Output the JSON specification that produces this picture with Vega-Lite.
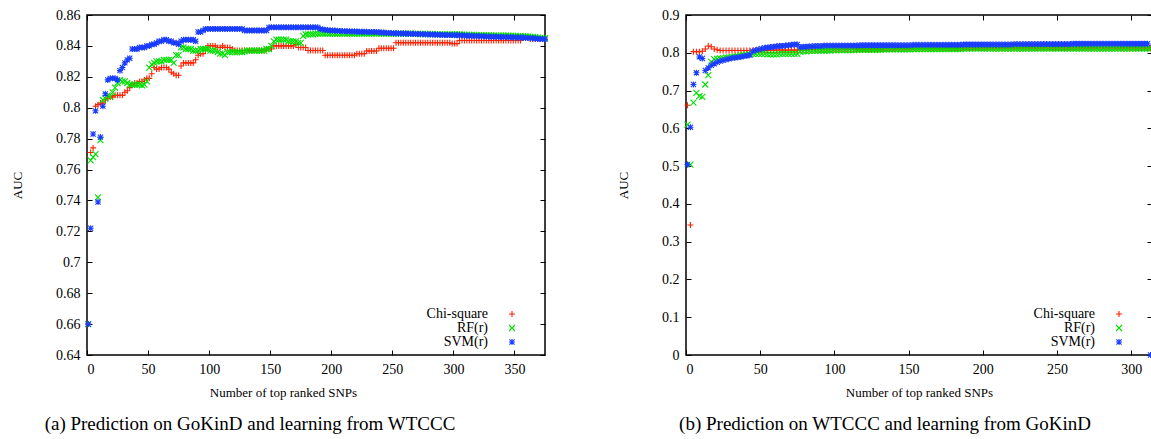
{
  "$schema": "https://vega.github.io/schema/vega-lite/v6.json",
  "padding": {"left": 10, "top": 7, "right": 0, "bottom": 0},
  "background": "white",
  "datasets": {
    "a": [
      {"x":1,"c":0.660,"r":0.660,"s":0.660},
      {"x":3,"c":0.771,"r":0.766,"s":0.722},
      {"x":5,"c":0.774,"r":0.768,"s":0.783},
      {"x":7,"c":0.801,"r":0.770,"s":0.798},
      {"x":9,"c":0.802,"r":0.742,"s":0.739},
      {"x":11,"c":0.803,"r":0.779,"s":0.781},
      {"x":13,"c":0.803,"r":0.805,"s":0.801},
      {"x":15,"c":0.805,"r":0.806,"s":0.809},
      {"x":17,"c":0.806,"r":0.808,"s":0.818},
      {"x":19,"c":0.807,"r":0.807,"s":0.819},
      {"x":21,"c":0.807,"r":0.810,"s":0.819},
      {"x":23,"c":0.808,"r":0.813,"s":0.819},
      {"x":25,"c":0.808,"r":0.816,"s":0.818},
      {"x":27,"c":0.808,"r":0.818,"s":0.824},
      {"x":29,"c":0.808,"r":0.817,"s":0.826},
      {"x":31,"c":0.810,"r":0.817,"s":0.829},
      {"x":33,"c":0.811,"r":0.816,"s":0.831},
      {"x":35,"c":0.813,"r":0.815,"s":0.832},
      {"x":37,"c":0.815,"r":0.815,"s":0.838},
      {"x":39,"c":0.816,"r":0.815,"s":0.838},
      {"x":41,"c":0.816,"r":0.815,"s":0.838},
      {"x":43,"c":0.817,"r":0.815,"s":0.839},
      {"x":45,"c":0.817,"r":0.8145,"s":0.839},
      {"x":47,"c":0.818,"r":0.815,"s":0.839},
      {"x":49,"c":0.819,"r":0.817,"s":0.840},
      {"x":51,"c":0.819,"r":0.826,"s":0.840},
      {"x":53,"c":0.822,"r":0.828,"s":0.841},
      {"x":55,"c":0.826,"r":0.829,"s":0.841},
      {"x":57,"c":0.825,"r":0.830,"s":0.842},
      {"x":59,"c":0.825,"r":0.830,"s":0.843},
      {"x":61,"c":0.826,"r":0.830,"s":0.843},
      {"x":63,"c":0.826,"r":0.831,"s":0.844},
      {"x":65,"c":0.826,"r":0.831,"s":0.844},
      {"x":67,"c":0.825,"r":0.831,"s":0.843},
      {"x":69,"c":0.823,"r":0.831,"s":0.843},
      {"x":71,"c":0.822,"r":0.829,"s":0.842},
      {"x":73,"c":0.821,"r":0.834,"s":0.842},
      {"x":75,"c":0.821,"r":0.834,"s":0.841},
      {"x":77,"c":0.827,"r":0.839,"s":0.843},
      {"x":79,"c":0.829,"r":0.839,"s":0.844},
      {"x":81,"c":0.829,"r":0.838,"s":0.844},
      {"x":83,"c":0.829,"r":0.838,"s":0.844},
      {"x":85,"c":0.829,"r":0.838,"s":0.844},
      {"x":87,"c":0.829,"r":0.837,"s":0.844},
      {"x":89,"c":0.831,"r":0.837,"s":0.843},
      {"x":91,"c":0.834,"r":0.837,"s":0.849},
      {"x":93,"c":0.835,"r":0.838,"s":0.849},
      {"x":95,"c":0.835,"r":0.838,"s":0.850},
      {"x":97,"c":0.837,"r":0.838,"s":0.851},
      {"x":99,"c":0.840,"r":0.838,"s":0.851},
      {"x":101,"c":0.840,"r":0.837,"s":0.851},
      {"x":103,"c":0.840,"r":0.837,"s":0.851},
      {"x":105,"c":0.840,"r":0.837,"s":0.851},
      {"x":107,"c":0.839,"r":0.836,"s":0.851},
      {"x":109,"c":0.839,"r":0.835,"s":0.851},
      {"x":111,"c":0.840,"r":0.835,"s":0.851},
      {"x":113,"c":0.839,"r":0.834,"s":0.851},
      {"x":115,"c":0.839,"r":0.836,"s":0.851},
      {"x":117,"c":0.839,"r":0.836,"s":0.851},
      {"x":119,"c":0.838,"r":0.836,"s":0.851},
      {"x":121,"c":0.837,"r":0.836,"s":0.851},
      {"x":123,"c":0.837,"r":0.836,"s":0.851},
      {"x":125,"c":0.837,"r":0.836,"s":0.851},
      {"x":127,"c":0.837,"r":0.836,"s":0.851},
      {"x":129,"c":0.837,"r":0.8365,"s":0.850},
      {"x":131,"c":0.837,"r":0.837,"s":0.850},
      {"x":133,"c":0.837,"r":0.837,"s":0.850},
      {"x":135,"c":0.837,"r":0.837,"s":0.850},
      {"x":137,"c":0.837,"r":0.837,"s":0.850},
      {"x":139,"c":0.837,"r":0.837,"s":0.850},
      {"x":141,"c":0.837,"r":0.837,"s":0.850},
      {"x":143,"c":0.837,"r":0.837,"s":0.850},
      {"x":145,"c":0.837,"r":0.837,"s":0.850},
      {"x":147,"c":0.838,"r":0.838,"s":0.850},
      {"x":149,"c":0.838,"r":0.838,"s":0.852},
      {"x":151,"c":0.838,"r":0.840,"s":0.852},
      {"x":153,"c":0.840,"r":0.843,"s":0.852},
      {"x":155,"c":0.840,"r":0.844,"s":0.852},
      {"x":157,"c":0.840,"r":0.844,"s":0.852},
      {"x":159,"c":0.840,"r":0.844,"s":0.852},
      {"x":161,"c":0.840,"r":0.844,"s":0.852},
      {"x":163,"c":0.840,"r":0.844,"s":0.852},
      {"x":165,"c":0.840,"r":0.843,"s":0.852},
      {"x":167,"c":0.840,"r":0.843,"s":0.852},
      {"x":169,"c":0.840,"r":0.843,"s":0.852},
      {"x":171,"c":0.841,"r":0.843,"s":0.852},
      {"x":173,"c":0.839,"r":0.842,"s":0.852},
      {"x":175,"c":0.839,"r":0.842,"s":0.852},
      {"x":177,"c":0.839,"r":0.8465,"s":0.852},
      {"x":179,"c":0.839,"r":0.8475,"s":0.852},
      {"x":181,"c":0.837,"r":0.8475,"s":0.852},
      {"x":183,"c":0.837,"r":0.8475,"s":0.852},
      {"x":185,"c":0.837,"r":0.8475,"s":0.852},
      {"x":187,"c":0.837,"r":0.848,"s":0.852},
      {"x":189,"c":0.837,"r":0.848,"s":0.852},
      {"x":191,"c":0.837,"r":0.848,"s":0.851},
      {"x":193,"c":0.837,"r":0.848,"s":0.8505},
      {"x":195,"c":0.834,"r":0.848,"s":0.8505},
      {"x":197,"c":0.834,"r":0.848,"s":0.8502},
      {"x":199,"c":0.834,"r":0.848,"s":0.850},
      {"x":201,"c":0.834,"r":0.848,"s":0.850},
      {"x":203,"c":0.834,"r":0.848,"s":0.8499},
      {"x":205,"c":0.834,"r":0.848,"s":0.8498},
      {"x":207,"c":0.834,"r":0.848,"s":0.8497},
      {"x":209,"c":0.834,"r":0.848,"s":0.8496},
      {"x":211,"c":0.834,"r":0.848,"s":0.8495},
      {"x":213,"c":0.834,"r":0.848,"s":0.8495},
      {"x":215,"c":0.834,"r":0.848,"s":0.8494},
      {"x":217,"c":0.834,"r":0.848,"s":0.8494},
      {"x":219,"c":0.834,"r":0.848,"s":0.8493},
      {"x":221,"c":0.835,"r":0.848,"s":0.8493},
      {"x":223,"c":0.835,"r":0.848,"s":0.8492},
      {"x":225,"c":0.835,"r":0.848,"s":0.8492},
      {"x":227,"c":0.835,"r":0.848,"s":0.8492},
      {"x":229,"c":0.8367,"r":0.848,"s":0.8491},
      {"x":231,"c":0.8367,"r":0.848,"s":0.849},
      {"x":233,"c":0.8367,"r":0.848,"s":0.849},
      {"x":235,"c":0.8367,"r":0.848,"s":0.849},
      {"x":237,"c":0.8367,"r":0.848,"s":0.849},
      {"x":239,"c":0.8385,"r":0.848,"s":0.8488},
      {"x":241,"c":0.8385,"r":0.848,"s":0.8487},
      {"x":243,"c":0.8385,"r":0.848,"s":0.8486},
      {"x":245,"c":0.8385,"r":0.848,"s":0.8485},
      {"x":247,"c":0.8385,"r":0.848,"s":0.8484},
      {"x":249,"c":0.8385,"r":0.848,"s":0.8483},
      {"x":251,"c":0.8385,"r":0.848,"s":0.8482},
      {"x":253,"c":0.842,"r":0.848,"s":0.8482},
      {"x":255,"c":0.842,"r":0.848,"s":0.8481},
      {"x":257,"c":0.842,"r":0.848,"s":0.8481},
      {"x":259,"c":0.842,"r":0.848,"s":0.848},
      {"x":261,"c":0.842,"r":0.848,"s":0.848},
      {"x":263,"c":0.842,"r":0.8479,"s":0.8479},
      {"x":265,"c":0.842,"r":0.8479,"s":0.8479},
      {"x":267,"c":0.842,"r":0.8478,"s":0.8478},
      {"x":269,"c":0.842,"r":0.8478,"s":0.8477},
      {"x":271,"c":0.842,"r":0.8478,"s":0.8477},
      {"x":273,"c":0.842,"r":0.8477,"s":0.8476},
      {"x":275,"c":0.842,"r":0.8477,"s":0.8476},
      {"x":277,"c":0.842,"r":0.8477,"s":0.8475},
      {"x":279,"c":0.842,"r":0.8476,"s":0.8475},
      {"x":281,"c":0.842,"r":0.8476,"s":0.8474},
      {"x":283,"c":0.842,"r":0.8476,"s":0.8474},
      {"x":285,"c":0.842,"r":0.8476,"s":0.8473},
      {"x":287,"c":0.842,"r":0.8475,"s":0.8473},
      {"x":289,"c":0.842,"r":0.8475,"s":0.8472},
      {"x":291,"c":0.842,"r":0.8475,"s":0.8471},
      {"x":293,"c":0.842,"r":0.8475,"s":0.8471},
      {"x":295,"c":0.842,"r":0.8475,"s":0.847},
      {"x":297,"c":0.842,"r":0.8475,"s":0.847},
      {"x":299,"c":0.8415,"r":0.8475,"s":0.847},
      {"x":301,"c":0.8415,"r":0.8475,"s":0.8469},
      {"x":303,"c":0.8415,"r":0.8474,"s":0.8469},
      {"x":305,"c":0.8435,"r":0.8474,"s":0.8468},
      {"x":307,"c":0.8435,"r":0.8473,"s":0.8468},
      {"x":309,"c":0.8435,"r":0.8473,"s":0.8467},
      {"x":311,"c":0.8435,"r":0.8472,"s":0.8466},
      {"x":313,"c":0.8435,"r":0.8472,"s":0.8466},
      {"x":315,"c":0.8435,"r":0.8471,"s":0.8465},
      {"x":317,"c":0.8435,"r":0.8471,"s":0.8464},
      {"x":319,"c":0.8435,"r":0.847,"s":0.8464},
      {"x":321,"c":0.8435,"r":0.847,"s":0.8463},
      {"x":323,"c":0.8435,"r":0.8469,"s":0.8462},
      {"x":325,"c":0.8435,"r":0.8469,"s":0.8462},
      {"x":327,"c":0.8435,"r":0.8468,"s":0.8461},
      {"x":329,"c":0.8435,"r":0.8468,"s":0.846},
      {"x":331,"c":0.8435,"r":0.8468,"s":0.846},
      {"x":333,"c":0.8435,"r":0.8467,"s":0.8459},
      {"x":335,"c":0.8435,"r":0.8467,"s":0.8459},
      {"x":337,"c":0.8435,"r":0.8467,"s":0.8458},
      {"x":339,"c":0.8435,"r":0.8466,"s":0.8458},
      {"x":341,"c":0.8435,"r":0.8466,"s":0.8457},
      {"x":343,"c":0.8435,"r":0.8466,"s":0.8457},
      {"x":345,"c":0.8435,"r":0.8466,"s":0.8456},
      {"x":347,"c":0.8435,"r":0.8465,"s":0.8456},
      {"x":349,"c":0.8435,"r":0.8465,"s":0.8455},
      {"x":351,"c":0.8435,"r":0.8465,"s":0.8455},
      {"x":353,"c":0.8435,"r":0.8464,"s":0.8454},
      {"x":355,"c":0.8435,"r":0.8463,"s":0.8454},
      {"x":357,"c":0.846,"r":0.8462,"s":0.8453},
      {"x":359,"c":0.846,"r":0.8461,"s":0.8452},
      {"x":361,"c":0.846,"r":0.846,"s":0.8451},
      {"x":363,"c":0.8445,"r":0.8459,"s":0.845},
      {"x":365,"c":0.8445,"r":0.8458,"s":0.8449},
      {"x":367,"c":0.8445,"r":0.8456,"s":0.8448},
      {"x":369,"c":0.8445,"r":0.8454,"s":0.8446},
      {"x":371,"c":0.8445,"r":0.8452,"s":0.8445},
      {"x":373,"c":0.8445,"r":0.8451,"s":0.8444},
      {"x":375,"c":0.8445,"r":0.845,"s":0.8443}
    ],
    "b": [
      {"x":1,"c":0.661,"r":0.610,"s":0.504},
      {"x":3,"c":0.344,"r":0.504,"s":0.603},
      {"x":5,"c":0.803,"r":0.668,"s":0.716},
      {"x":7,"c":0.803,"r":0.694,"s":0.747},
      {"x":9,"c":0.803,"r":0.685,"s":0.789},
      {"x":11,"c":0.804,"r":0.683,"s":0.785},
      {"x":13,"c":0.810,"r":0.716,"s":0.753},
      {"x":15,"c":0.818,"r":0.741,"s":0.760},
      {"x":17,"c":0.816,"r":0.776,"s":0.767},
      {"x":19,"c":0.810,"r":0.783,"s":0.771},
      {"x":21,"c":0.808,"r":0.784,"s":0.775},
      {"x":23,"c":0.806,"r":0.785,"s":0.778},
      {"x":25,"c":0.806,"r":0.786,"s":0.780},
      {"x":27,"c":0.806,"r":0.787,"s":0.782},
      {"x":29,"c":0.806,"r":0.788,"s":0.784},
      {"x":31,"c":0.806,"r":0.789,"s":0.786},
      {"x":33,"c":0.806,"r":0.790,"s":0.787},
      {"x":35,"c":0.806,"r":0.791,"s":0.788},
      {"x":37,"c":0.806,"r":0.793,"s":0.789},
      {"x":39,"c":0.806,"r":0.794,"s":0.791},
      {"x":41,"c":0.806,"r":0.795,"s":0.792},
      {"x":43,"c":0.806,"r":0.796,"s":0.794},
      {"x":45,"c":0.806,"r":0.797,"s":0.804},
      {"x":47,"c":0.807,"r":0.797,"s":0.807},
      {"x":49,"c":0.807,"r":0.797,"s":0.809},
      {"x":51,"c":0.807,"r":0.797,"s":0.811},
      {"x":53,"c":0.807,"r":0.797,"s":0.813},
      {"x":55,"c":0.807,"r":0.796,"s":0.814},
      {"x":57,"c":0.807,"r":0.796,"s":0.815},
      {"x":59,"c":0.807,"r":0.796,"s":0.816},
      {"x":61,"c":0.807,"r":0.796,"s":0.817},
      {"x":63,"c":0.807,"r":0.797,"s":0.818},
      {"x":65,"c":0.807,"r":0.797,"s":0.818},
      {"x":67,"c":0.807,"r":0.797,"s":0.819},
      {"x":69,"c":0.807,"r":0.797,"s":0.820},
      {"x":71,"c":0.807,"r":0.797,"s":0.821},
      {"x":73,"c":0.807,"r":0.797,"s":0.822},
      {"x":75,"c":0.807,"r":0.797,"s":0.822},
      {"x":77,"c":0.808,"r":0.803,"s":0.815},
      {"x":79,"c":0.808,"r":0.804,"s":0.816},
      {"x":81,"c":0.808,"r":0.804,"s":0.816},
      {"x":83,"c":0.808,"r":0.805,"s":0.817},
      {"x":85,"c":0.808,"r":0.805,"s":0.817},
      {"x":87,"c":0.808,"r":0.805,"s":0.818},
      {"x":89,"c":0.808,"r":0.806,"s":0.818},
      {"x":91,"c":0.808,"r":0.806,"s":0.818},
      {"x":93,"c":0.808,"r":0.806,"s":0.819},
      {"x":95,"c":0.808,"r":0.806,"s":0.819},
      {"x":97,"c":0.808,"r":0.806,"s":0.819},
      {"x":99,"c":0.808,"r":0.807,"s":0.819},
      {"x":101,"c":0.808,"r":0.807,"s":0.819},
      {"x":103,"c":0.808,"r":0.807,"s":0.819},
      {"x":105,"c":0.808,"r":0.807,"s":0.819},
      {"x":107,"c":0.808,"r":0.807,"s":0.819},
      {"x":109,"c":0.808,"r":0.807,"s":0.819},
      {"x":111,"c":0.809,"r":0.807,"s":0.819},
      {"x":113,"c":0.809,"r":0.807,"s":0.819},
      {"x":115,"c":0.809,"r":0.808,"s":0.819},
      {"x":117,"c":0.809,"r":0.808,"s":0.820},
      {"x":119,"c":0.809,"r":0.808,"s":0.820},
      {"x":121,"c":0.809,"r":0.808,"s":0.820},
      {"x":123,"c":0.809,"r":0.808,"s":0.820},
      {"x":125,"c":0.809,"r":0.808,"s":0.820},
      {"x":127,"c":0.809,"r":0.808,"s":0.820},
      {"x":129,"c":0.809,"r":0.808,"s":0.820},
      {"x":131,"c":0.809,"r":0.808,"s":0.820},
      {"x":133,"c":0.810,"r":0.809,"s":0.820},
      {"x":135,"c":0.810,"r":0.809,"s":0.820},
      {"x":137,"c":0.810,"r":0.809,"s":0.820},
      {"x":139,"c":0.810,"r":0.809,"s":0.820},
      {"x":141,"c":0.810,"r":0.809,"s":0.820},
      {"x":143,"c":0.810,"r":0.809,"s":0.820},
      {"x":145,"c":0.810,"r":0.809,"s":0.820},
      {"x":147,"c":0.810,"r":0.809,"s":0.820},
      {"x":149,"c":0.810,"r":0.809,"s":0.820},
      {"x":151,"c":0.810,"r":0.809,"s":0.820},
      {"x":153,"c":0.811,"r":0.810,"s":0.821},
      {"x":155,"c":0.811,"r":0.810,"s":0.821},
      {"x":157,"c":0.811,"r":0.810,"s":0.821},
      {"x":159,"c":0.811,"r":0.810,"s":0.821},
      {"x":161,"c":0.811,"r":0.810,"s":0.821},
      {"x":163,"c":0.811,"r":0.810,"s":0.821},
      {"x":165,"c":0.811,"r":0.810,"s":0.821},
      {"x":167,"c":0.811,"r":0.810,"s":0.821},
      {"x":169,"c":0.811,"r":0.810,"s":0.821},
      {"x":171,"c":0.811,"r":0.810,"s":0.821},
      {"x":173,"c":0.811,"r":0.810,"s":0.821},
      {"x":175,"c":0.811,"r":0.810,"s":0.821},
      {"x":177,"c":0.811,"r":0.810,"s":0.821},
      {"x":179,"c":0.811,"r":0.810,"s":0.821},
      {"x":181,"c":0.811,"r":0.810,"s":0.821},
      {"x":183,"c":0.811,"r":0.810,"s":0.821},
      {"x":185,"c":0.811,"r":0.810,"s":0.821},
      {"x":187,"c":0.813,"r":0.811,"s":0.822},
      {"x":189,"c":0.813,"r":0.811,"s":0.822},
      {"x":191,"c":0.813,"r":0.811,"s":0.822},
      {"x":193,"c":0.813,"r":0.811,"s":0.822},
      {"x":195,"c":0.813,"r":0.811,"s":0.822},
      {"x":197,"c":0.813,"r":0.811,"s":0.822},
      {"x":199,"c":0.813,"r":0.811,"s":0.822},
      {"x":201,"c":0.813,"r":0.811,"s":0.822},
      {"x":203,"c":0.813,"r":0.811,"s":0.822},
      {"x":205,"c":0.813,"r":0.811,"s":0.822},
      {"x":207,"c":0.813,"r":0.811,"s":0.822},
      {"x":209,"c":0.813,"r":0.811,"s":0.822},
      {"x":211,"c":0.813,"r":0.811,"s":0.822},
      {"x":213,"c":0.813,"r":0.811,"s":0.822},
      {"x":215,"c":0.813,"r":0.811,"s":0.822},
      {"x":217,"c":0.813,"r":0.811,"s":0.822},
      {"x":219,"c":0.813,"r":0.811,"s":0.822},
      {"x":221,"c":0.813,"r":0.811,"s":0.823},
      {"x":223,"c":0.813,"r":0.811,"s":0.823},
      {"x":225,"c":0.813,"r":0.811,"s":0.823},
      {"x":227,"c":0.813,"r":0.811,"s":0.823},
      {"x":229,"c":0.813,"r":0.811,"s":0.823},
      {"x":231,"c":0.813,"r":0.811,"s":0.823},
      {"x":233,"c":0.813,"r":0.811,"s":0.823},
      {"x":235,"c":0.813,"r":0.811,"s":0.823},
      {"x":237,"c":0.813,"r":0.811,"s":0.823},
      {"x":239,"c":0.813,"r":0.811,"s":0.823},
      {"x":241,"c":0.813,"r":0.811,"s":0.823},
      {"x":243,"c":0.813,"r":0.811,"s":0.823},
      {"x":245,"c":0.813,"r":0.811,"s":0.823},
      {"x":247,"c":0.813,"r":0.811,"s":0.823},
      {"x":249,"c":0.813,"r":0.811,"s":0.823},
      {"x":251,"c":0.813,"r":0.811,"s":0.823},
      {"x":253,"c":0.813,"r":0.811,"s":0.823},
      {"x":255,"c":0.813,"r":0.811,"s":0.823},
      {"x":257,"c":0.813,"r":0.811,"s":0.823},
      {"x":259,"c":0.813,"r":0.811,"s":0.823},
      {"x":261,"c":0.813,"r":0.811,"s":0.824},
      {"x":263,"c":0.813,"r":0.811,"s":0.824},
      {"x":265,"c":0.813,"r":0.811,"s":0.824},
      {"x":267,"c":0.813,"r":0.811,"s":0.824},
      {"x":269,"c":0.813,"r":0.811,"s":0.824},
      {"x":271,"c":0.813,"r":0.811,"s":0.824},
      {"x":273,"c":0.813,"r":0.811,"s":0.824},
      {"x":275,"c":0.813,"r":0.811,"s":0.824},
      {"x":277,"c":0.813,"r":0.811,"s":0.824},
      {"x":279,"c":0.813,"r":0.811,"s":0.824},
      {"x":281,"c":0.813,"r":0.811,"s":0.824},
      {"x":283,"c":0.813,"r":0.811,"s":0.824},
      {"x":285,"c":0.813,"r":0.811,"s":0.824},
      {"x":287,"c":0.813,"r":0.811,"s":0.824},
      {"x":289,"c":0.813,"r":0.811,"s":0.824},
      {"x":291,"c":0.813,"r":0.811,"s":0.824},
      {"x":293,"c":0.813,"r":0.811,"s":0.824},
      {"x":295,"c":0.813,"r":0.811,"s":0.824},
      {"x":297,"c":0.813,"r":0.811,"s":0.824},
      {"x":299,"c":0.813,"r":0.811,"s":0.824},
      {"x":301,"c":0.813,"r":0.811,"s":0.824},
      {"x":303,"c":0.813,"r":0.811,"s":0.824},
      {"x":305,"c":0.813,"r":0.811,"s":0.824},
      {"x":307,"c":0.813,"r":0.811,"s":0.824},
      {"x":309,"c":0.813,"r":0.811,"s":0.824},
      {"x":311,"c":0.813,"r":0.811,"s":0.824},
      {"x":313,"c":0.813,"r":0.811,"s":0.0}
    ]
  },
  "config": {
    "font": "Liberation Serif",
    "view": {"stroke": "#000", "strokeWidth": 1.5},
    "axis": {
      "domain": false, "grid": false,
      "labelFont": "Liberation Serif", "labelFontSize": 14, "labelColor": "#000",
      "tickColor": "#000", "tickSize": -5, "tickWidth": 1, "labelPadding": 12,
      "titleFont": "Liberation Serif", "titleFontSize": 13, "titleFontWeight": "normal", "titleColor": "#000"
    },
    "title": {"font": "Liberation Serif", "fontSize": 19, "fontWeight": "normal", "color": "#000"}
  },
  "hconcat": [
    {
      "width": 458, "height": 340,
      "title": {"text": "(a) Prediction on GoKinD and learning from WTCCC", "orient": "bottom", "anchor": "middle", "frame": "group", "dx": -66, "offset": 16},
      "data": {"name": "a"},
      "transform": [{"fold": ["c", "r", "s"], "as": ["k", "v"]}],
      "layer": [
        {
          "mark": {"type": "point", "filled": false, "size": 36, "strokeWidth": 1.1, "opacity": 1},
          "encoding": {
            "x": {"field": "x", "type": "quantitative", "scale": {"domain": [0, 375], "nice": false, "zero": false},
                  "axis": {"orient": "bottom", "values": [0, 50, 100, 150, 200, 250, 300, 350], "title": "Number of top ranked SNPs", "titleX": 196, "titleY": 41, "titleBaseline": "alphabetic", "titleAnchor": "middle", "titleAlign": "center"}},
            "y": {"field": "v", "type": "quantitative", "scale": {"domain": [0.64, 0.86], "nice": false, "zero": false},
                  "axis": {"orient": "left", "values": [0.64, 0.66, 0.68, 0.7, 0.72, 0.74, 0.76, 0.78, 0.8, 0.82, 0.84, 0.86], "format": "~g", "title": "AUC", "titlePadding": 31}},
            "color": {"field": "k", "type": "nominal", "scale": {"domain": ["c", "r", "s"], "range": ["#ff2000", "#00e000", "#1a3cff"]},
                      "legend": {"orient": "none", "legendX": 418, "legendY": 292, "title": null, "direction": "vertical", "labelAlign": "right", "labelOffset": -31, "labelFont": "Liberation Serif", "labelFontSize": 14, "labelColor": "#000", "padding": 0, "rowPadding": 0, "symbolSize": 36, "symbolStrokeWidth": 1.1, "labelExpr": "datum.label == 'c' ? 'Chi-square' : datum.label == 'r' ? 'RF(r)' : 'SVM(r)'"}},
            "shape": {"field": "k", "type": "nominal", "scale": {"domain": ["c", "r", "s"], "range": ["M-1,0L1,0M0,-1L0,1", "M-1,-1L1,1M-1,1L1,-1", "M-1,0L1,0M0,-1L0,1M-0.85,-0.85L0.85,0.85M-0.85,0.85L0.85,-0.85"]}},
            "order": {"field": "k"}
          }
        },
        {
          "mark": {"type": "point", "opacity": 0},
          "encoding": {
            "x": {"field": "x", "type": "quantitative", "axis": {"orient": "top", "values": [0, 50, 100, 150, 200, 250, 300, 350], "labels": false, "title": null}},
            "y": {"field": "v", "type": "quantitative", "axis": {"orient": "right", "values": [0.64, 0.66, 0.68, 0.7, 0.72, 0.74, 0.76, 0.78, 0.8, 0.82, 0.84, 0.86], "labels": false, "title": null}}
          }
        }
      ]
    },
    {
      "width": 466, "height": 340,
      "title": {"text": "(b) Prediction on WTCCC and learning from GoKinD", "orient": "bottom", "anchor": "middle", "frame": "group", "dx": -34, "offset": 16},
      "data": {"name": "b"},
      "transform": [{"fold": ["c", "r", "s"], "as": ["k", "v"]}],
      "layer": [
        {
          "mark": {"type": "point", "filled": false, "size": 36, "strokeWidth": 1.1, "opacity": 1},
          "encoding": {
            "x": {"field": "x", "type": "quantitative", "scale": {"domain": [0, 314], "nice": false, "zero": false},
                  "axis": {"orient": "bottom", "values": [0, 50, 100, 150, 200, 250, 300], "title": "Number of top ranked SNPs", "titleY": 41, "titleBaseline": "alphabetic"}},
            "y": {"field": "v", "type": "quantitative", "scale": {"domain": [0, 0.9], "nice": false, "zero": false},
                  "axis": {"orient": "left", "values": [0, 0.1, 0.2, 0.3, 0.4, 0.5, 0.6, 0.7, 0.8, 0.9], "format": "~g", "title": "AUC", "titlePadding": 31}},
            "color": {"field": "k", "type": "nominal", "scale": {"domain": ["c", "r", "s"], "range": ["#ff2000", "#00e000", "#1a3cff"]},
                      "legend": {"orient": "none", "legendX": 426, "legendY": 292, "title": null, "direction": "vertical", "labelAlign": "right", "labelOffset": -31, "labelFont": "Liberation Serif", "labelFontSize": 14, "labelColor": "#000", "padding": 0, "rowPadding": 0, "symbolSize": 36, "symbolStrokeWidth": 1.1, "labelExpr": "datum.label == 'c' ? 'Chi-square' : datum.label == 'r' ? 'RF(r)' : 'SVM(r)'"}},
            "shape": {"field": "k", "type": "nominal", "scale": {"domain": ["c", "r", "s"], "range": ["M-1,0L1,0M0,-1L0,1", "M-1,-1L1,1M-1,1L1,-1", "M-1,0L1,0M0,-1L0,1M-0.85,-0.85L0.85,0.85M-0.85,0.85L0.85,-0.85"]}},
            "order": {"field": "k"}
          }
        },
        {
          "mark": {"type": "point", "opacity": 0},
          "encoding": {
            "x": {"field": "x", "type": "quantitative", "axis": {"orient": "top", "values": [0, 50, 100, 150, 200, 250, 300], "labels": false, "title": null}},
            "y": {"field": "v", "type": "quantitative", "axis": {"orient": "right", "values": [0, 0.1, 0.2, 0.3, 0.4, 0.5, 0.6, 0.7, 0.8, 0.9], "labels": false, "title": null}}
          }
        }
      ]
    }
  ],
  "bounds": "flush",
  "spacing": 141,
  "resolve": {"scale": {"color": "independent", "shape": "independent"}}
}
